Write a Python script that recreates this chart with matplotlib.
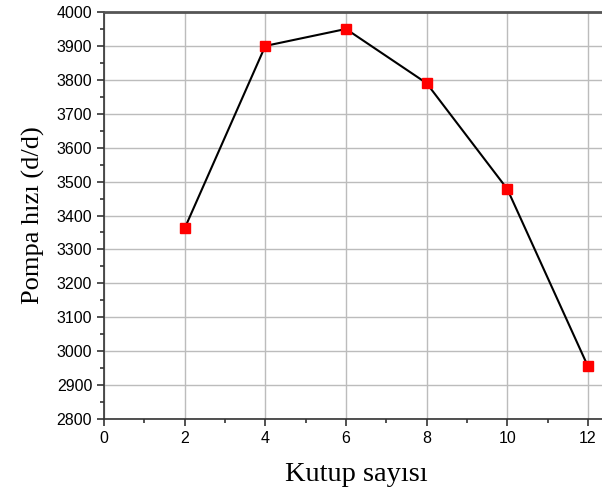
import matplotlib.pyplot as plt
from matplotlib.ticker import MultipleLocator

kutup_sayisi = [2, 4, 6, 8, 10, 12]
pompa_hizi = [3362, 3900, 3950, 3790, 3478, 2955]

fig = plt.figure(figsize=(6.02, 4.98), dpi=100)
# axes extend past the right edge, like the original cropped image
ax = fig.add_axes([104 / 602, 1 - 419 / 498, (12.5 * 40.33) / 602, (419 - 12) / 498])

ax.plot(kutup_sayisi, pompa_hizi, color='black', linewidth=1.5, zorder=3)
ax.plot(kutup_sayisi, pompa_hizi, linestyle='none', marker='s', markersize=6.5,
        color='red', markeredgecolor='red', zorder=4)

ax.set_xlim(0, 12.5)
ax.set_ylim(2800, 4000)
ax.xaxis.set_major_locator(MultipleLocator(2))
ax.xaxis.set_minor_locator(MultipleLocator(1))
ax.yaxis.set_major_locator(MultipleLocator(100))
ax.yaxis.set_minor_locator(MultipleLocator(50))

ax.grid(True, which='major', color='#bcbcbc', linewidth=1)
ax.set_axisbelow(True)

ax.tick_params(which='both', direction='out', colors='#333333', width=1.2)
ax.tick_params(which='major', length=5, labelsize=11.5, labelcolor='black')
ax.tick_params(which='minor', length=3)
for lbl in ax.get_xticklabels() + ax.get_yticklabels():
    lbl.set_fontfamily('Liberation Sans')

ax.spines['right'].set_visible(False)
for side in ['left', 'bottom', 'top']:
    ax.spines[side].set_color('#333333')
    ax.spines[side].set_linewidth(1.2)
ax.spines['top'].set_linewidth(2)
ax.spines['top'].set_color('#555555')

ax.set_xlabel('Kutup sayısı', fontfamily='Liberation Serif', fontsize=20.5, labelpad=12)
ax.set_ylabel('Pompa hızı (d/d)', fontfamily='Liberation Serif', fontsize=19, labelpad=8)

fig.savefig('out.png', dpi=100)
